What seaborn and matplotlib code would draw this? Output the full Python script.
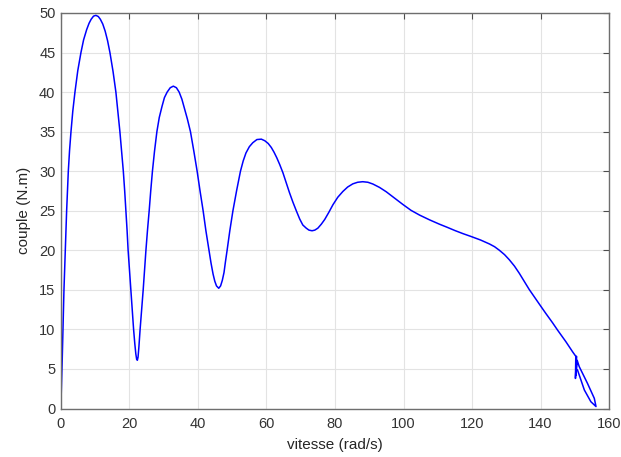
import matplotlib
matplotlib.use("Agg")
import matplotlib.pyplot as plt
import seaborn as sns
import pandas as pd

# speed (rad/s), in drawing order
vitesse = [0.0, 0.05, 0.15, 0.35, 0.58, 0.87, 1.26, 1.65, 2.14, 2.5, 2.92, 3.45, 4.08, 4.9,
           5.83, 6.6, 7.5, 8.2, 8.8, 9.5, 10.2, 10.9, 11.5, 12.2, 12.9, 13.6, 14.29, 15.2,
           16.03, 16.6, 17.2, 17.7, 18.2, 18.6, 18.95, 19.3, 19.6, 20.0, 20.4, 20.8, 21.2,
           21.55, 21.85, 22.1, 22.3, 22.5, 22.75, 23.1, 23.55, 24.0, 24.4, 24.8, 25.25,
           25.75, 26.2, 26.7, 27.3, 28.0, 28.7, 29.5, 30.2, 31.0, 31.9, 32.8, 33.7, 34.5,
           35.3, 36.0, 36.9, 37.8, 38.8, 39.75, 40.6, 41.5, 42.3, 43.2, 43.8, 44.4, 44.9,
           45.4, 46.06, 46.6, 47.1, 47.6, 48.0, 48.5, 49.3, 50.2, 51.3, 52.4, 53.2, 54.0,
           55.0, 56.0, 57.2, 58.5, 59.5, 60.5, 61.4, 62.2, 63.0, 63.85, 64.8, 65.8, 66.7,
           67.7, 68.7, 69.7, 70.6, 71.6, 72.4, 73.3, 74.1, 75.0, 76.0, 77.0, 78.2, 79.4,
           80.8, 82.3, 83.7, 85.2, 86.6, 88.1, 89.6, 91.05, 93.0, 94.96, 97.4, 99.8,
           102.2, 104.7, 107.6, 110.5, 112.8, 115.0, 117.4, 119.7, 122.5, 125.1, 126.6,
           128.0, 129.5, 130.9, 132.4, 133.8, 135.2, 136.7, 138.2, 139.65, 141.5, 143.5,
           145.0, 146.4, 147.4, 148.4, 149.4, 150.3,
           150.2, 150.5, 150.3, 150.6, 150.5, 150.8, 152.8, 154.7, 156.2,
           155.7, 153.7, 151.3, 150.7]
# torque (N.m)
couple = [0.0, 1.5, 3.0, 6.0, 10.0, 15.0, 20.0, 25.0, 30.0, 32.6, 35.0, 37.6, 40.0, 42.7,
          45.0, 46.6, 47.9, 48.7, 49.2, 49.6, 49.7, 49.55, 49.2, 48.6, 47.7, 46.5, 45.0, 42.6,
          40.0, 37.6, 35.0, 32.5, 30.0, 27.5, 25.0, 22.5, 20.0, 17.5, 15.0, 12.5, 10.0,
          8.2, 6.9, 6.2, 6.1, 6.5, 7.8, 10.0, 12.5, 15.0, 17.5, 20.0, 22.5,
          25.0, 27.5, 30.0, 32.5, 35.0, 36.8, 38.2, 39.3, 40.0, 40.55, 40.75, 40.55, 40.0,
          39.1, 38.0, 36.6, 35.0, 32.5, 30.0, 27.5, 25.0, 22.5, 20.0, 18.4, 17.0, 16.1,
          15.5, 15.2, 15.5, 16.2, 17.2, 18.5, 20.0, 22.5, 25.0, 27.6, 30.0, 31.3, 32.3,
          33.1, 33.6, 34.0, 34.05, 33.85, 33.5, 33.0, 32.4, 31.7, 30.85, 29.8, 28.5, 27.3,
          26.1, 25.0, 23.95, 23.2, 22.8, 22.55, 22.47, 22.55, 22.8, 23.3, 23.9, 24.8, 25.76,
          26.7, 27.44, 28.0, 28.4, 28.6, 28.67, 28.6, 28.38, 27.95, 27.4, 26.6, 25.8,
          25.05, 24.45, 23.85, 23.3, 22.9, 22.5, 22.1, 21.75, 21.3, 20.8, 20.45,
          20.0, 19.45, 18.8, 18.0, 17.1, 16.1, 15.05, 14.1, 13.2, 12.05, 10.85,
          9.9, 9.05, 8.45, 7.8, 7.15, 6.6,
          3.8, 6.6, 4.2, 6.0, 5.0, 4.87, 2.34, 0.86, 0.25,
          1.29, 3.19, 5.3, 6.1]

x_ticks = [0, 20, 40, 60, 80, 100, 120, 140, 160]
y_ticks = [0, 5, 10, 15, 20, 25, 30, 35, 40, 45, 50]

sns.set_style("white")
plt.rcParams["font.family"] = ["Liberation Sans", "DejaVu Sans"]

df = pd.DataFrame({"vitesse": vitesse, "couple": couple})

fig = plt.figure(figsize=(6.21, 4.57), dpi=100)
ax = fig.add_axes([0.0982, 0.1061, 0.8825, 0.8655])
sns.lineplot(data=df, x="vitesse", y="couple", sort=False, estimator=None,
             color="#0000ff", linewidth=1.1, ax=ax)

ax.set_xlim(0, 160)
ax.set_ylim(0, 50)
ax.set_xticks(x_ticks)
ax.set_yticks(y_ticks)
ax.grid(True, color="#e3e3e3", linewidth=0.8)
ax.set_axisbelow(True)
for s in ax.spines.values():
    s.set_visible(True)
    s.set_color("#6e6e6e")
    s.set_linewidth(1.0)
ax.tick_params(direction="in", length=4, width=0.8, color="#4d4d4d",
               top=True, right=True, labelsize=10.5, labelcolor="#333333")
ax.tick_params(axis="x", pad=6)
ax.tick_params(axis="y", pad=4)
ax.set_xlabel("vitesse (rad/s)", fontsize=11, color="#262626", labelpad=5)
ax.set_ylabel("couple (N.m)", fontsize=11, color="#262626", labelpad=6)

fig.savefig("out.png", dpi=100)
